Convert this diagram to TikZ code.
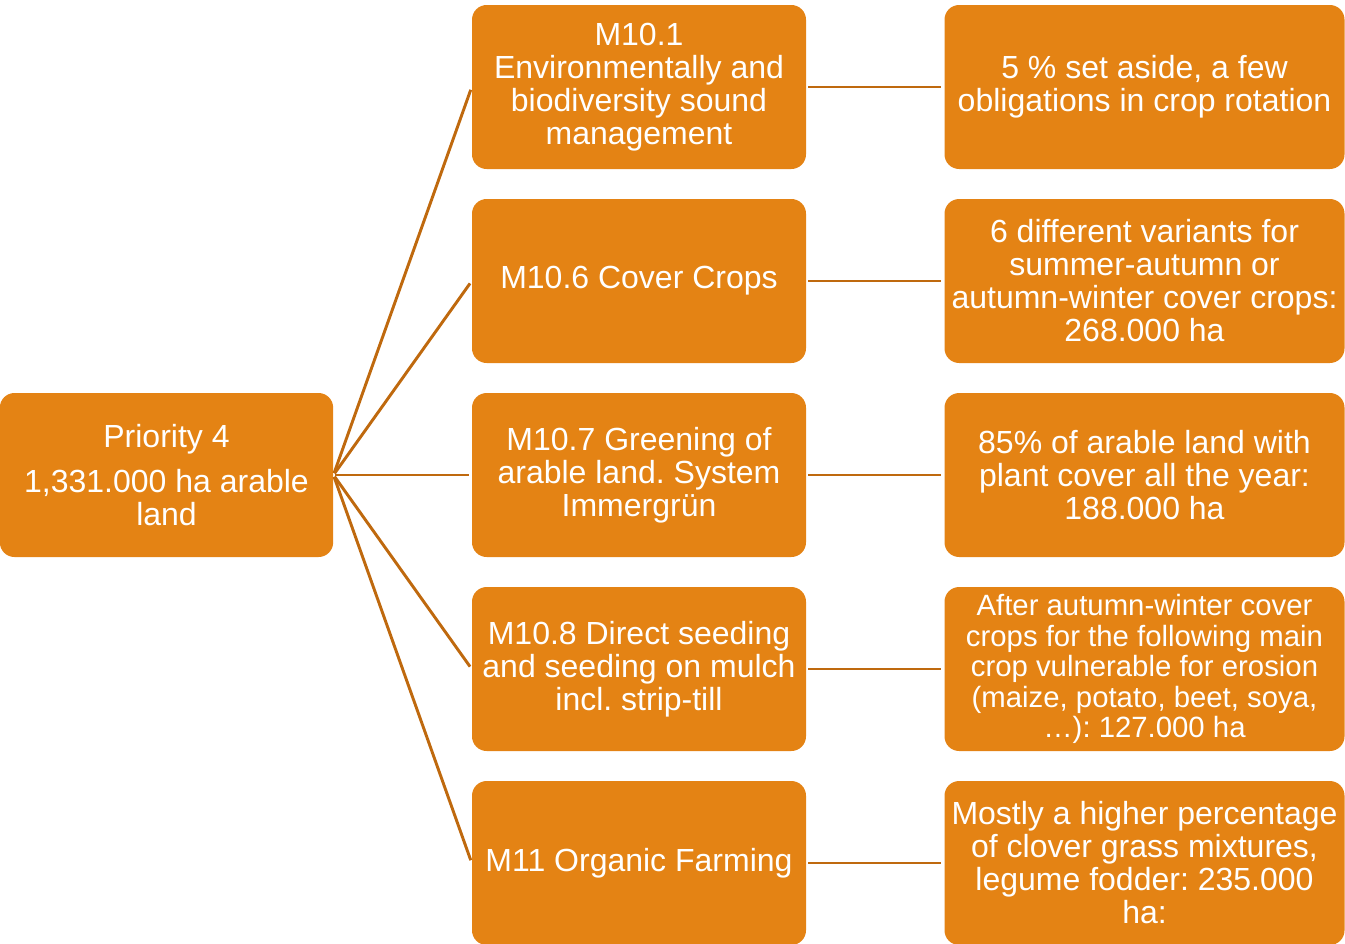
\documentclass[tikz,border=0pt]{standalone}
\usepackage{fontspec}
\setmainfont{Liberation Sans}
\usepackage{tikz}
\usetikzlibrary{arrows}
\definecolor{boxorange}{HTML}{E48314}
\definecolor{lineorange}{HTML}{BF690E}
\frenchspacing

\begin{document}
\begin{tikzpicture}[x=0.75pt,y=-0.75pt,
  orangebox/.style={fill=boxorange,rounded corners=11pt,text=white,align=center,
    minimum height=123pt,inner sep=2pt,font=\fontsize{24}{24.75}\selectfont},
  leftbox/.style={orangebox,minimum width=250pt},
  midbox/.style={orangebox,minimum width=250.5pt},
  rightbox/.style={orangebox,minimum width=300pt},
  link/.style={draw=lineorange,line width=2.2pt,shorten <=1.5pt,shorten >=2.2pt}]
\useasboundingbox (0,0) rectangle (1345,943);
\node[leftbox] (prio) at (166.5,475) {Priority 4\\[9.5pt]1,331.000 ha arable\\land};
\node[midbox] (m101) at (639,87) {M10.1\\Environmentally and\\biodiversity sound\\management};
\node[midbox] (m106) at (639,281) {M10.6 Cover Crops};
\node[midbox] (m107) at (639,475) {M10.7 Greening of\\arable land. System\\Immergrün};
\node[midbox] (m108) at (639,669) {M10.8 Direct seeding\\and seeding on mulch\\incl. strip-till};
\node[midbox] (m11) at (639,863) {M11 Organic Farming};
\node[rightbox] (r101) at (1144.5,87) {5 \% set aside, a few\\obligations in crop rotation};
\node[rightbox] (r106) at (1144.5,281) {6 different variants for\\summer-autumn or\\autumn-winter cover crops:\\268.000 ha};
\node[rightbox] (r107) at (1144.5,475) {85\% of arable land with\\plant cover all the year:\\188.000 ha};
\node[rightbox,font=\fontsize{22}{22.8}\selectfont] (r108) at (1144.5,669) {After autumn-winter cover\\crops for the following main\\crop vulnerable for erosion\\(maize, potato, beet, soya,\\…): 127.000 ha};
\node[rightbox] (r11) at (1144.5,863) {Mostly a higher percentage\\of clover grass mixtures,\\legume fodder: 235.000\\ha:};
\draw[link] (prio.east) -- (m101.west);
\draw[link] (prio.east) -- (m106.west);
\draw[link] (prio.east) -- (m107.west);
\draw[link] (prio.east) -- (m108.west);
\draw[link] (prio.east) -- (m11.west);
\draw[link] (m101) -- (r101);
\draw[link] (m106) -- (r106);
\draw[link] (m107) -- (r107);
\draw[link] (m108) -- (r108);
\draw[link] (m11) -- (r11);
\end{tikzpicture}
\end{document}
